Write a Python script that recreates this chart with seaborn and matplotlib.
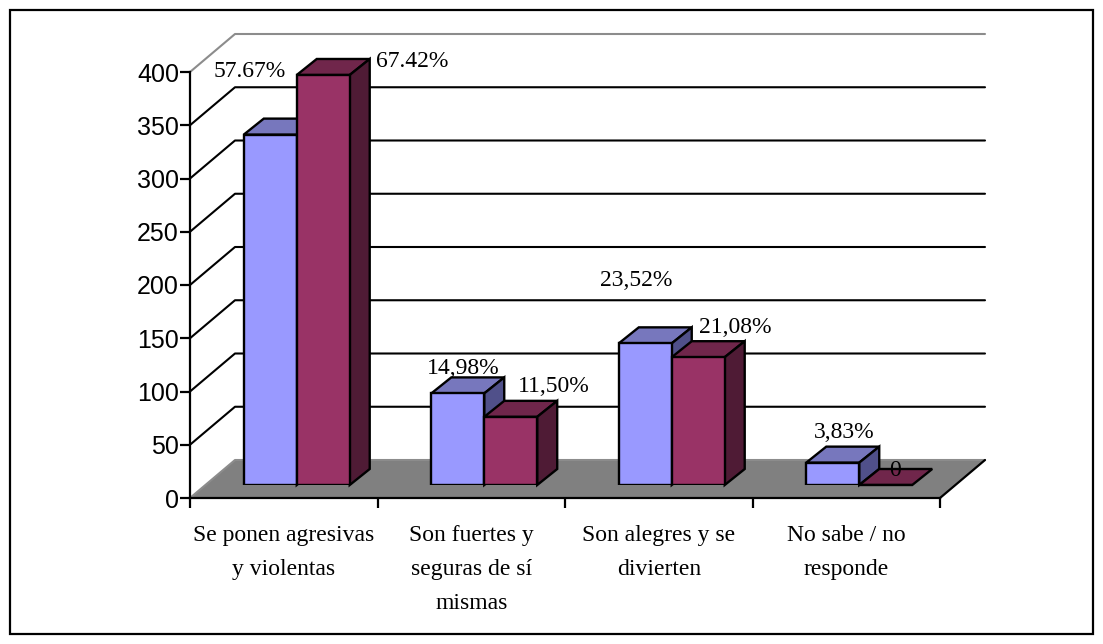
import matplotlib
matplotlib.use("Agg")
import matplotlib.pyplot as plt
import matplotlib.transforms as mtrans
from matplotlib.patches import Polygon, Rectangle
import pandas as pd
import seaborn as sns

# datos
categorias = ["Se ponen agresivas\ny violentas", "Son fuertes y\nseguras de sí\nmismas",
              "Son alegres y se\ndivierten", "No sabe / no\nresponde"]
serie_a = [329, 86, 133, 21]
serie_b = [385, 64, 120, 0]
etiquetas_a = ["57.67%", "14,98%", "23,52%", "3,83%"]
etiquetas_b = ["67.42%", "11,50%", "21,08%", "0"]
ticks_y = [0, 50, 100, 150, 200, 250, 300, 350, 400]

# desplazamiento de cada etiqueta respecto a la esquina superior central de la barra (px)
offs_a = [(-21, 63), (5, 25), (-9, 63), (11, 30)]
offs_b = [(89, 13), (43, 30), (37, 30), (9, 14)]

W, H = 1103, 644
AZUL, AZUL_TOP, AZUL_LAT = "#9999ff", "#7777bd", "#50508a"
VINO, VINO_TOP, VINO_LAT = "#993366", "#70264b", "#4f1b35"

sns.set_theme(style="white")
fig = plt.figure(figsize=(W / 100, H / 100), dpi=100)

def caja(x0, y_top, x1, y_bot):
    return [x0 / W, 1 - y_bot / H, (x1 - x0) / W, (y_bot - y_top) / H]

px = mtrans.Affine2D().scale(1 / W, -1 / H).translate(0, 1) + fig.transFigure

# marco exterior
fig.add_artist(Rectangle((10, 10), 1083, 624, transform=px, fill=False, ec="black", lw=1.6))

# paredes y suelo
ax = fig.add_axes(caja(190, 72, 940, 498))
ax.set_zorder(3)
ax.set_xlim(0, 4)
ax.set_ylim(0, 400)
ax.patch.set_visible(False)
for s in ["top", "right"]:
    ax.spines[s].set_visible(False)
for s in ["left", "bottom"]:
    ax.spines[s].set_linewidth(1.6)
    ax.spines[s].set_color("black")
ax.set_yticks(ticks_y)
ax.set_xticks(range(5))
ax.set_xticklabels([])
ax.tick_params(axis="both", length=7, width=1.6, color="black", left=True, bottom=True)
ax.tick_params(axis="y", labelsize=18, pad=1, labelcolor="black")
for t in ax.get_yticklabels():
    t.set_fontfamily("Liberation Sans")

DX, DY = 45, -38
fig.add_artist(Polygon([(190, 498), (190 + DX, 498 + DY), (940 + DX, 498 + DY), (940, 498)],
                       transform=px, fc="#808080", ec="none", zorder=1))
for v in ticks_y:
    y = H - ax.transData.transform((0, v))[1]
    c = "black" if 0 < v < 400 else "#8c8c8c"
    fig.add_artist(plt.Line2D([190, 190 + DX, 940 + DX], [y, y + DY, y + DY], transform=px,
                              color=c, lw=1.5, zorder=1.5))
fig.add_artist(plt.Line2D([940, 940 + DX], [498, 498 + DY], transform=px, color="black", lw=1.6, zorder=1.5))

for i, cat in enumerate(categorias):
    ax.text(i + 0.5, -25, cat, ha="center", va="top", fontsize=17, family="Liberation Serif",
            color="black", linespacing=1.82)

# barras
df = pd.DataFrame({"cat": categorias * 2, "valor": serie_a + serie_b,
                   "serie": ["a"] * 4 + ["b"] * 4})
ax2 = fig.add_axes(caja(203, 59, 953, 485))
ax2.set_zorder(4)
sns.barplot(data=df, x="cat", y="valor", hue="serie", palette=[AZUL, VINO], saturation=1,
            width=0.565, gap=0, edgecolor="black", linewidth=1.7, legend=False, ax=ax2)
ax2.set_xlim(-0.5, 3.5)
ax2.set_ylim(0, 400)
ax2.axis("off")
fig.canvas.draw()

BX, BY = 20, 16
n = len(categorias)
for k, barra in enumerate(ax2.patches[:2 * n]):
    x0, y0 = ax2.transData.transform((barra.get_x(), 0))
    x1, y1 = ax2.transData.transform((barra.get_x() + barra.get_width(), barra.get_height()))
    es_a = k < n
    orden = (k % n) * 2 + (0 if es_a else 1)
    top = [(x0, y1), (x0 + BX, y1 + BY), (x1 + BX, y1 + BY), (x1, y1)]
    lat = [(x1, y1), (x1 + BX, y1 + BY), (x1 + BX, y0 + BY), (x1, y0)]
    barra.set_zorder(10 + orden + 0.5)
    ax2.add_patch(Polygon(top, transform=None, fc=AZUL_TOP if es_a else VINO_TOP, ec="black", lw=1.7,
                          zorder=10 + orden, clip_on=False))
    if barra.get_height() > 0:
        ax2.add_patch(Polygon(lat, transform=None, fc=AZUL_LAT if es_a else VINO_LAT, ec="black", lw=1.7,
                              zorder=10 + orden, clip_on=False))
    texto = (etiquetas_a if es_a else etiquetas_b)[k % n]
    off = (offs_a if es_a else offs_b)[k % n]
    ax2.annotate(texto, ((x0 + x1) / 2, y1), xycoords="figure pixels", xytext=off, textcoords="offset pixels",
                 ha="center", va="center", fontsize=17, family="Liberation Serif", color="black",
                 zorder=40, annotation_clip=False)

fig.savefig("out.png", dpi=100, facecolor="white")
